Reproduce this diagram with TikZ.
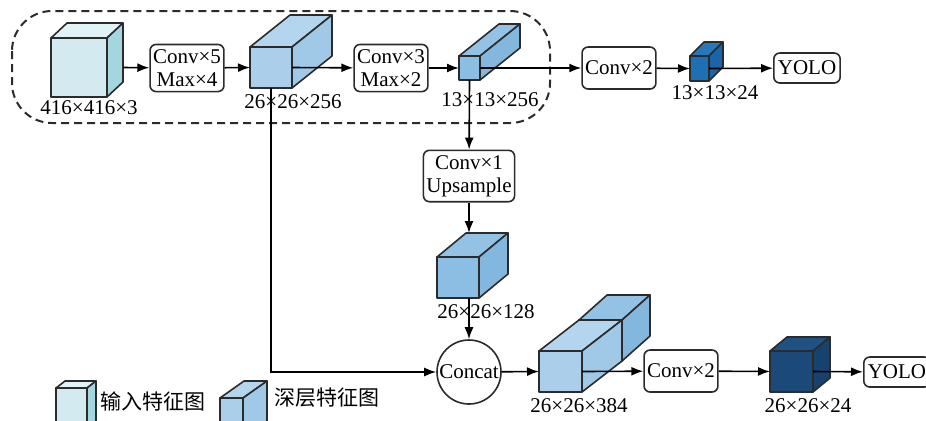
\documentclass[tikz,border=0pt]{standalone}
\usepackage{fontspec}
\setmainfont{Liberation Serif}
\newfontfamily\cjk{Noto Sans CJK SC}
\usepackage{tikz}
\usetikzlibrary{shapes,arrows.meta}
% cube colours: front / top / side
\definecolor{infront}{HTML}{D2EAF0}
\definecolor{intop}{HTML}{E2F3F7}
\definecolor{inside}{HTML}{A3D6DF}
\definecolor{lbfront}{HTML}{ABCFEB}
\definecolor{lbtop}{HTML}{B4D5EE}
\definecolor{lbside}{HTML}{A0C8E7}
\definecolor{mbfront}{HTML}{8CBEE3}
\definecolor{mbtop}{HTML}{93C2E5}
\definecolor{mbside}{HTML}{84B7DE}
\definecolor{dbfront}{HTML}{1F6FB4}
\definecolor{dbtop}{HTML}{2777BA}
\definecolor{dbside}{HTML}{1B65A6}
\definecolor{nbfront}{HTML}{1B4A7A}
\definecolor{nbtop}{HTML}{1F5283}
\definecolor{nbside}{HTML}{18426E}
\definecolor{edge}{HTML}{2B2B2B}
\tikzset{
	opbox/.style    = {draw=edge, rounded corners=3pt, align=center, minimum height=21pt,
		inner xsep=1.5pt, inner ysep=2.5pt},
	yolobox/.style  = {draw=edge, rounded corners=3pt, minimum height=15pt,
		inner xsep=2pt, inner ysep=1pt},
	cat/.style      = {draw=edge, circle, minimum size=32pt, inner sep=0pt},
	dimlabel/.style = {inner sep=0pt},
	cubeline/.style = {draw=edge, line join=round},
	region/.style   = {draw=edge, dash pattern=on 4pt off 2.5pt, line width=1pt,
		rounded corners=20pt}
}
% name, colour set, x, y (front top-left), width, height, depth dx, depth dy
\newcommand{\featcube}[8]{%
	\filldraw[cubeline, fill=#2top] (#3,#4) -- ++(#7,-#8) -- ++(#5,0) -- ++(-#7,#8) -- cycle;
	\filldraw[cubeline, fill=#2side] (#3+#5,#4) -- ++(#7,-#8) -- ++(0,#6) -- ++(-#7,#8) -- cycle;
	\filldraw[cubeline, fill=#2front] (#3,#4) rectangle ++(#5,#6);
	\coordinate (#1-w) at (#3,#4+#6/2);
	\coordinate (#1-e) at (#3+#5,#4+#6/2);
	\coordinate (#1-s) at (#3+#5/2,#4+#6);
	\coordinate (#1-b) at (#3+#5+#7,#4+#6/2);
	\coordinate (#1-t) at (#3+#7,#4-#8);
}

\begin{document}
\begin{tikzpicture}[auto, thick, >={Latex[length=6pt,width=4.5pt]}, x=0.5pt, y=-0.5pt,
	font=\fontsize{10.5}{11.5}\selectfont]
	\useasboundingbox (0,0) rectangle (926,420);
	\clip (0,0) rectangle (926,420);
	
	% backbone region
	\draw[region] (12,11) rectangle (550,123);
	
	% feature maps
	\featcube{in}{in}{51}{38}{56}{59}{16}{15}
	\featcube{f256}{lb}{250}{47}{42}{41}{40}{32}
	\featcube{f13}{mb}{459}{56}{21}{24}{40}{32}
	\featcube{y13}{db}{690}{56}{19}{25}{14}{14}
	\featcube{f128}{mb}{437}{257}{42}{41}{29}{24}
	\featcube{catb}{mb}{579}{320}{43}{41}{28}{25}
	\featcube{f384}{lb}{539}{351}{43}{41}{40}{31}
	\featcube{y26}{nb}{770}{351}{43}{41}{17}{14}
	
	% sizes
	\node[dimlabel] (l-in) at (89,108) {416×416×3};
	\node[dimlabel] (l-256) at (293,102) {26×26×256};
	\node[dimlabel] (l-13) at (490,100) {13×13×256};
	\node[dimlabel] (l-y13) at (715,93) {13×13×24};
	\node[dimlabel] (l-128) at (486,312) {26×26×128};
	\node[dimlabel] (l-384) at (579,406) {26×26×384};
	\node[dimlabel] (l-y26) at (808,406) {26×26×24};
	
	% operations
	\node[opbox] (cm1) at (187,68) {Conv×5\\Max×4};
	\node[opbox] (cm2) at (391,68) {Conv×3\\Max×2};
	\node[opbox] (cv1) at (619,68) {Conv×2};
	\node[yolobox] (yolo1) at (807,68) {YOLO};
	\node[opbox] (up) at (469,176) {Conv×1\\Upsample};
	\node[cat] (concat) at (469,372) {Concat};
	\node[opbox] (cv2) at (681,371) {Conv×2};
	\node[yolobox, anchor=west] (yolo2) at (863,372) {YOLO};
	
	\draw[->](in-b) -- (cm1);
	\draw[->](cm1) -- (f256-w);
	\draw[->](f256-e) -- (cm2);
	\draw[->](cm2) -- (f13-w);
	\draw[->](f13-e) -- (cv1);
	\draw[->](cv1) -- (y13-w);
	\draw[->](y13-e) -- (yolo1);
	\draw[->](f13-s) -- (up);
	\draw[->](up) -- (up.south |- f128-t);
	\draw[->](concat.north |- f128-s) -- (concat);
	\draw[->](f256-s) |- (concat);
	\draw[->](concat) -- (f384-w);
	\draw[->](f384-e) -- (cv2);
	\draw[->](cv2) -- (y26-w);
	\draw[->](y26-e) -- (yolo2);
	
	% legend
	\featcube{k1}{in}{56}{388}{31}{40}{9}{7}
	\featcube{k2}{lb}{220}{398}{23}{40}{24}{17}
	\node[anchor=west, inner sep=0pt, font=\cjk\fontsize{10.5}{12}\selectfont] (t1) at (100,401) {输入特征图};
	\node[anchor=west, inner sep=0pt, font=\cjk\fontsize{10.5}{12}\selectfont] (t2) at (274,398) {深层特征图};
\end{tikzpicture}
\end{document}
